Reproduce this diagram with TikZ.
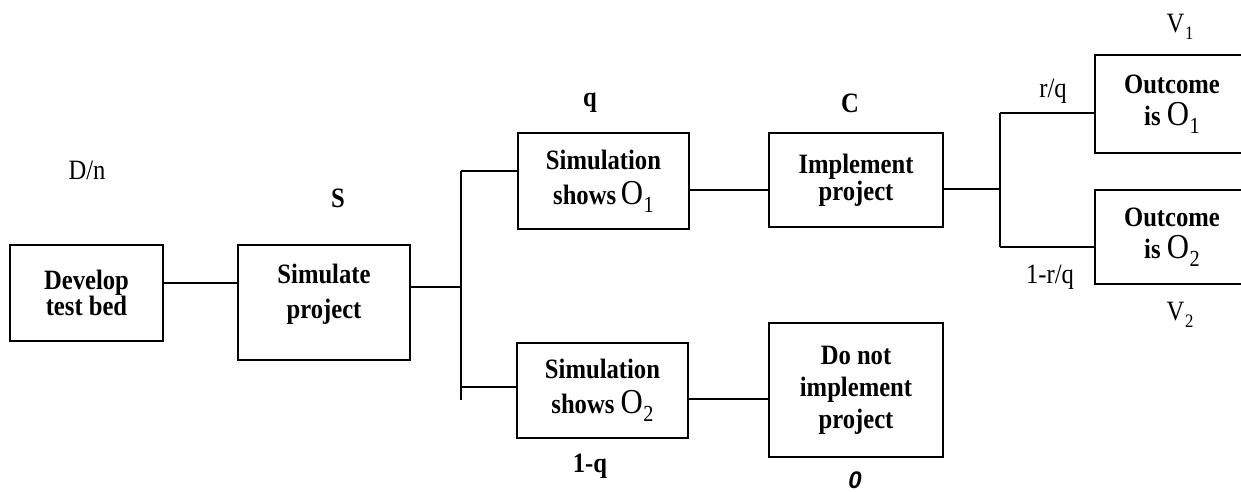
\documentclass[tikz,border=0pt]{standalone}
\usepackage{fontspec}
\setmainfont{Liberation Serif}[FakeStretch=0.88]
\newfontfamily\sansz{Liberation Sans}
\newcommand{\myO}[1]{{\mdseries\fontsize{17.5}{17}\selectfont O\kern0.3pt\raisebox{-0.22em}{\fontsize{11.5}{11}\selectfont #1}}}
\newcommand{\myV}[1]{{V\kern0.3pt\raisebox{-0.25em}{\fontsize{9.5}{9}\selectfont #1}}}
\begin{document}
\begin{tikzpicture}[x=0.5pt,y=-0.5pt,
  box/.style={draw,line width=1pt,align=center,inner sep=0pt,font=\fontsize{14}{17}\selectfont\bfseries},
  lbl/.style={inner sep=0pt,font=\fontsize{14}{16}\selectfont},
  blbl/.style={inner sep=0pt,font=\fontsize{14}{16}\selectfont\bfseries},
  wire/.style={line width=1pt}]
\useasboundingbox (0,0) rectangle (1241,492);
% boxes
\node[box,minimum width=76.5pt,minimum height=48pt] (dev) at (86.5,293) {Develop\\[-4pt]test bed};
\node[box,minimum width=86pt,minimum height=57.5pt] (sim) at (324,302.5) {Simulate\\[0.5pt]project\\[-11pt]\strut};
\node[box,minimum width=85.5pt,minimum height=48pt] (s1) at (603.5,181) {Simulation\\[0.5pt]shows\,\myO{1}};
\node[box,minimum width=85.5pt,minimum height=47.5pt] (s2) at (602.5,390.5) {Simulation\\[0.5pt]shows \myO{2}};
\node[box,minimum width=87pt,minimum height=47pt] (impl) at (856,180) {Implement\\[-3.5pt]project};
\node[box,minimum width=87pt,minimum height=67pt] (dont) at (856,390) {Do not\\[-1pt]implement\\[-1pt]project};
\node[box,minimum width=77pt,minimum height=49pt] (o1) at (1172,104) {Outcome\\[-1pt]is \myO{1}};
\node[box,minimum width=77pt,minimum height=47pt] (o2) at (1172,237) {Outcome\\[-1pt]is \myO{2}};
% helper coordinates
\coordinate (h1) at (0,283);
\coordinate (j1) at (461,287);
\coordinate (jt) at (461,171);
\coordinate (jl) at (461,387);
\coordinate (jb) at (461,400);
\coordinate (h2) at (0,190);
\coordinate (h3) at (0,399);
\coordinate (k1) at (1000,189);
\coordinate (kt) at (1000,113);
\coordinate (kb) at (1000,247);
% connectors
\draw[wire] (dev.east |- h1) -- (sim.west |- h1);
\draw[wire] (sim.east |- j1) -- (j1);
\draw[wire] (jt) -- (jb);
\draw[wire] (jt) -- (s1.west |- jt);
\draw[wire] (jl) -- (s2.west |- jl);
\draw[wire] (s1.east |- h2) -- (impl.west |- h2);
\draw[wire] (s2.east |- h3) -- (dont.west |- h3);
\draw[wire] (impl.east |- k1) -- (k1);
\draw[wire] (kt) -- (kb);
\draw[wire] (kt) -- (o1.west |- kt);
\draw[wire] (kb) -- (o2.west |- kb);
% labels
\node[lbl] (lDn) at (87,170) {D/n};
\node[blbl] (lS) at (338,198) {S};
\node[blbl] (lq) at (590,103) {q};
\node[blbl] (lC) at (850,103) {C};
\node[lbl] (lrq) at (1053,91) {r/q};
\node[lbl] (l1rq) at (1050,277) {1-r/q};
\node[lbl] (lV1) at (1180,27) {\myV{1}};
\node[lbl] (lV2) at (1180,315) {\myV{2}};
\node[blbl] (l1q) at (590,466) {1-q};
\node[inner sep=0pt,font=\sansz\bfseries\itshape\fontsize{12}{14}\selectfont] (l0) at (855,480) {0};
\end{tikzpicture}
\end{document}
